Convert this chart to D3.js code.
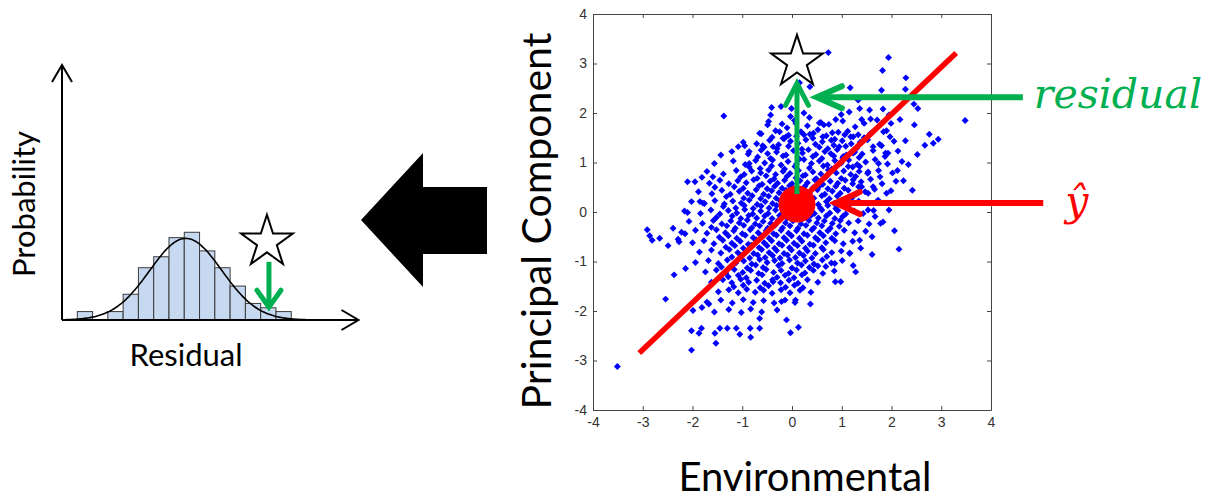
<!DOCTYPE html>
<html lang="en">
<head>
<meta charset="UTF-8">
<title>Residual from principal component regression</title>
<script src="https://d3js.org/d3.v7.min.js"></script>
<style>
  body { margin: 0; background: #fff; }
</style>
</head>
<body>
<div id="chart"></div>
<script>
const width = 1217, height = 501;

// ---- histogram (left panel) ----
const binStarts = [-3.5, -3, -2.5, -2, -1.5, -1, -0.5, 0, 0.5, 1, 1.5, 2, 2.5, 3];
const binWidth = 0.5;
const binDensity = [0.033, 0, 0.033, 0.101, 0.205, 0.248, 0.323, 0.344, 0.271, 0.205, 0.133, 0.065, 0.048, 0.033];
const fitMean = 0.05, fitSigma = 1.18, fitPeak = 0.32;
const obsResidual = 2.77;   // where the starred sample falls

// ---- scatter (right panel) ----
const axisTicks = [-4, -3, -2, -1, 0, 1, 2, 3, 4];
const fitLineX = [-3.07, 3.3];
const fitLineY = [-2.85, 3.21];
const yHat = [0.1, 0.16];
const observed = [0.1, 3.03];

const scatterPts = [
  // sparse edge points
  [0.73,3.22],[1.94,3.12],[1.82,2.86],[2.29,2.71],[2.28,2.48],[1.80,2.46],[1.17,2.51],[0.36,2.53],[0.15,2.61],
  [3.48,1.85],[-1.37,1.94],[2.45,2.18],[2.53,2.09],[2.46,1.76],[2.76,1.57],[2.94,1.47],[2.84,1.39],[2.67,1.35],
  [2.28,1.44],[2.52,1.16],[2.34,0.96],[2.42,0.44],[2.24,0.63],[2.12,0.84],[2.06,-0.38],[2.15,-0.75],[1.99,0.43],
  [1.95,0.04],[1.78,-0.23],[1.61,-0.50],[1.61,-0.86],[1.38,-0.73],[1.23,-1.08],[1.28,-1.21],[0.98,-1.41],[0.87,-1.41],
  [0.86,-1.04],[0.68,-1.10],[0.37,-1.86],[0.13,-2.33],[-0.03,-2.44],[-0.11,-2.18],[0.07,-1.78],[-0.21,-1.81],
  [-0.38,-1.41],[-0.65,-2.15],[-0.65,-2.35],[-0.83,-2.53],[-0.84,-2.35],[-1.05,-2.47],[-1.12,-2.35],[-1.30,-2.35],
  [-1.45,-2.35],[-1.53,-2.65],[-1.55,-2.45],[-1.82,-2.35],[-1.87,-2.45],[-2.02,-2.40],[-2.02,-2.79],[-1.99,-1.99],
  [-1.81,-1.93],[-1.67,-1.86],[-2.54,-1.76],[-2.37,-1.27],[-2.14,-1.14],[-3.51,-3.12],[-2.91,-0.36],[-2.86,-0.48],
  [-2.81,-0.57],[-2.66,-0.53],[-2.49,-0.68],[-2.39,-0.33],[-2.29,-0.55],[-2.27,-0.60],[-2.15,-0.44],[-2.10,-0.01],
  [-2.10,0.61],[-1.81,0.70],[-1.85,0.21],[-1.79,0.18],[-1.59,0.71],[-1.55,0.50],[-1.43,1.15],[-1.08,1.32],
  [-0.95,1.34],[-0.86,1.22],[-0.86,0.98],[-0.65,1.59],[-0.59,1.34],[-0.49,1.76],[-0.43,1.96],[-0.41,2.11],
  [-0.22,2.13],[-0.01,2.09],[-0.03,1.93],[0.24,2.00],[0.35,1.91],[0.55,1.80],[0.88,1.87],[0.99,1.97],[1.15,2.02],
  [1.36,2.09],[1.56,2.06],[1.33,2.26],[1.40,1.87],[1.58,1.88],[1.83,2.08],[1.95,1.96],[2.17,1.87],[1.90,1.64],
  [1.99,1.79],[1.63,1.32],[1.80,1.34],[1.93,1.19],[1.97,1.52],[1.87,1.12],[1.74,0.98],[1.77,0.71],[1.63,0.51],
  [1.53,0.38],[1.40,0.51],[1.53,0.81],[1.23,0.65],[1.36,0.92],[1.23,1.19],[1.13,0.92],[1.03,1.12],[0.95,1.32],
  [0.79,1.45],[1.06,1.56],[1.23,1.52],[0.81,1.60],[0.64,1.76],[0.43,1.59],[0.24,1.56],[0.08,1.79],[-0.10,1.70],
  [-0.18,1.49],[-0.38,1.32],[-0.25,1.62],[-0.12,1.52],[1.67,-0.09],[1.83,-0.20],[1.53,0.04],[1.36,-0.57],[1.16,-0.84],
  // body of the cloud
  [-0.47,1.83],[-0.2,1.78],[0.05,1.85],[0.31,1.74],[0.58,1.81],[0.74,1.77],[1.02,1.84],[1.27,1.72],[1.45,1.79],[1.71,1.86],
  [-0.62,1.58],[-0.33,1.64],[-0.07,1.55],[0.18,1.62],[0.36,1.57],[0.52,1.66],[0.69,1.54],[0.93,1.61],[1.12,1.63],[1.33,1.56],[1.58,1.59],[1.84,1.62],
  [-0.98,1.41],[-0.71,1.38],[-0.45,1.45],[-0.27,1.36],[-0.03,1.43],[0.12,1.39],[0.28,1.46],[0.47,1.37],[0.61,1.42],[0.84,1.35],[1.01,1.44],[1.19,1.38],[1.37,1.41],[1.52,1.46],[1.76,1.37],[2.05,1.43],
  [-1.21,1.22],[-0.88,1.17],[-0.62,1.25],[-0.49,1.18],[-0.31,1.21],[-0.12,1.15],[0.03,1.24],[0.21,1.19],[0.33,1.26],[0.48,1.16],[0.66,1.22],[0.78,1.18],[0.91,1.26],[1.09,1.15],[1.26,1.21],[1.41,1.17],[1.63,1.24],[1.88,1.19],[2.13,1.23],
  [-1.56,0.98],[-1.18,1.03],[-0.94,0.96],[-0.73,1.04],[-0.55,0.99],[-0.39,1.05],[-0.22,0.95],[-0.08,1.02],[0.09,0.97],[0.24,1.06],[0.39,0.98],[0.55,1.03],[0.71,0.95],[0.86,1.04],[0.99,0.99],[1.14,1.05],[1.31,0.96],[1.48,1.01],[1.67,1.06],[1.92,0.97],[2.21,1.02],
  [-1.71,0.82],[-1.38,0.77],[-1.12,0.84],[-0.96,0.76],[-0.81,0.83],[-0.63,0.79],[-0.47,0.85],[-0.33,0.76],[-0.18,0.82],[-0.04,0.78],[0.13,0.84],[0.27,0.75],[0.42,0.81],[0.58,0.77],[0.73,0.85],[0.89,0.79],[1.04,0.83],[1.18,0.76],[1.35,0.82],[1.52,0.78],[1.74,0.84],[2.02,0.79],
  [-1.95,0.61],[-1.66,0.58],[-1.45,0.64],[-1.27,0.57],[-1.09,0.63],[-0.92,0.59],[-0.77,0.65],[-0.6,0.56],[-0.44,0.62],[-0.29,0.58],[-0.15,0.64],[0.0,0.57],[0.16,0.63],[0.31,0.59],[0.46,0.65],[0.62,0.56],[0.77,0.62],[0.92,0.58],[1.07,0.64],[1.22,0.57],[1.39,0.61],[1.58,0.66],[1.81,0.57],[2.09,0.62],
  [-1.88,0.41],[-1.61,0.37],[-1.41,0.44],[-1.24,0.36],[-1.06,0.42],[-0.89,0.38],[-0.72,0.45],[-0.57,0.36],[-0.41,0.43],[-0.26,0.39],[-0.12,0.44],[0.04,0.37],[0.19,0.43],[0.35,0.38],[0.51,0.45],[0.66,0.36],[0.81,0.42],[0.97,0.38],[1.13,0.44],[1.29,0.37],[1.47,0.41],[1.66,0.46],[1.9,0.38],
  [-2.02,0.21],[-1.76,0.17],[-1.55,0.23],[-1.36,0.16],[-1.19,0.22],[-1.02,0.18],[-0.86,0.24],[-0.7,0.15],[-0.54,0.21],[-0.39,0.17],[-0.24,0.23],[-0.09,0.16],[0.08,0.22],[0.22,0.18],[0.38,0.24],[0.53,0.15],[0.69,0.21],[0.85,0.17],[1.0,0.23],[1.17,0.16],[1.34,0.22],[1.52,0.18],[1.73,0.24],
  [-2.16,0.02],[-1.84,-0.03],[-1.63,0.04],[-1.45,-0.04],[-1.28,0.03],[-1.11,-0.02],[-0.95,0.05],[-0.79,-0.04],[-0.63,0.02],[-0.48,-0.03],[-0.33,0.04],[-0.18,-0.02],[-0.03,0.03],[0.14,-0.04],[0.29,0.02],[0.45,-0.03],[0.6,0.04],[0.76,-0.02],[0.92,0.03],[1.08,-0.04],[1.25,0.02],[1.43,-0.03],[1.64,0.03],
  [-2.07,-0.19],[-1.8,-0.23],[-1.58,-0.17],[-1.41,-0.24],[-1.23,-0.18],[-1.06,-0.22],[-0.9,-0.16],[-0.74,-0.24],[-0.58,-0.19],[-0.43,-0.23],[-0.28,-0.17],[-0.13,-0.22],[0.02,-0.18],[0.18,-0.24],[0.34,-0.17],[0.5,-0.22],[0.65,-0.18],[0.81,-0.23],[0.97,-0.17],[1.14,-0.22],[1.33,-0.18],[1.55,-0.24],
  [-2.22,-0.41],[-1.94,-0.37],[-1.71,-0.43],[-1.52,-0.36],[-1.34,-0.42],[-1.17,-0.38],[-1.0,-0.44],[-0.84,-0.36],[-0.68,-0.42],[-0.52,-0.38],[-0.37,-0.44],[-0.22,-0.37],[-0.07,-0.43],[0.09,-0.38],[0.24,-0.44],[0.4,-0.36],[0.56,-0.42],[0.72,-0.38],[0.88,-0.44],[1.05,-0.37],[1.26,-0.42],[1.48,-0.39],
  [-2.0,-0.62],[-1.77,-0.58],[-1.57,-0.64],[-1.39,-0.57],[-1.21,-0.63],[-1.04,-0.59],[-0.88,-0.65],[-0.72,-0.56],[-0.56,-0.62],[-0.41,-0.58],[-0.26,-0.64],[-0.11,-0.57],[0.04,-0.63],[0.2,-0.59],[0.36,-0.65],[0.52,-0.56],[0.68,-0.62],[0.86,-0.58],[1.03,-0.64],[1.22,-0.59],
  [-1.86,-0.81],[-1.62,-0.77],[-1.43,-0.83],[-1.26,-0.76],[-1.09,-0.82],[-0.93,-0.78],[-0.77,-0.84],[-0.61,-0.76],[-0.46,-0.82],[-0.31,-0.78],[-0.16,-0.84],[-0.01,-0.77],[0.15,-0.83],[0.31,-0.79],[0.47,-0.84],[0.63,-0.76],[0.8,-0.82],[0.99,-0.79],[1.16,-0.83],
  [-1.94,-1.02],[-1.68,-0.98],[-1.48,-1.04],[-1.3,-0.97],[-1.13,-1.03],[-0.97,-0.99],[-0.81,-1.05],[-0.65,-0.96],[-0.5,-1.02],[-0.35,-0.98],[-0.2,-1.04],[-0.05,-0.97],[0.11,-1.03],[0.27,-0.99],[0.44,-1.05],[0.61,-0.97],[0.79,-1.03],[1.01,-0.98],
  [-1.74,-1.21],[-1.52,-1.17],[-1.33,-1.23],[-1.16,-1.16],[-0.99,-1.22],[-0.83,-1.18],[-0.67,-1.24],[-0.52,-1.16],[-0.37,-1.22],[-0.22,-1.18],[-0.07,-1.24],[0.09,-1.17],[0.26,-1.23],[0.43,-1.18],[0.62,-1.24],[0.85,-1.19],
  [-1.62,-1.42],[-1.39,-1.37],[-1.21,-1.43],[-1.03,-1.36],[-0.87,-1.42],[-0.71,-1.38],[-0.55,-1.44],[-0.39,-1.37],[-0.23,-1.43],[-0.06,-1.38],[0.12,-1.44],[0.31,-1.37],[0.52,-1.42],
  [-1.48,-1.61],[-1.27,-1.57],[-1.08,-1.63],[-0.91,-1.56],[-0.74,-1.62],[-0.57,-1.58],[-0.4,-1.64],[-0.22,-1.57],[-0.04,-1.63],[0.16,-1.58],[0.38,-1.62],
  [-1.71,-1.82],[-1.43,-1.78],[-1.2,-1.84],[-0.98,-1.77],[-0.78,-1.83],[-0.57,-1.79],[-0.36,-1.84],[-0.14,-1.78],[0.06,-1.83],
  [-1.56,-2.02],[-1.27,-1.97],[-1.02,-2.03],[-0.83,-1.96],[-0.61,-2.02],[-0.3,-1.98],
  // dense core
  [-0.86,0.91],[-0.64,0.88],[-0.41,0.93],[-0.15,0.87],[0.06,0.92],[0.35,0.89],[0.63,0.93],[0.8,0.87],[1.22,0.91],
  [-1.03,0.71],[-0.7,0.68],[-0.52,0.73],[-0.36,0.67],[-0.1,0.72],[0.08,0.69],[0.22,0.73],[0.49,0.67],[0.69,0.71],[0.99,0.68],[1.28,0.72],
  [-1.16,0.51],[-0.98,0.48],[-0.66,0.53],[-0.5,0.47],[-0.35,0.52],[-0.2,0.48],[-0.05,0.53],[0.11,0.47],[0.26,0.52],[0.42,0.49],[0.56,0.53],[0.72,0.47],[0.88,0.52],[1.05,0.48],[1.34,0.51],
  [-1.32,0.31],[-0.97,0.28],[-0.8,0.33],[-0.63,0.27],[-0.47,0.32],[-0.32,0.28],[-0.17,0.33],[-0.02,0.27],[0.27,0.32],[0.44,0.28],[0.6,0.33],[0.75,0.27],[0.91,0.32],[1.21,0.29],
  [-1.38,0.11],[-1.13,0.08],[-0.96,0.13],[-0.78,0.07],[-0.62,0.12],[-0.46,0.08],[-0.31,0.13],[-0.16,0.07],[0.4,0.12],[0.57,0.08],[0.72,0.13],[0.88,0.07],[1.12,0.11],
  [-1.52,-0.11],[-1.2,-0.08],[-1.03,-0.13],[-0.87,-0.07],[-0.71,-0.12],[-0.55,-0.08],[-0.4,-0.13],[-0.25,-0.07],[-0.1,-0.12],[0.06,-0.08],[0.22,-0.13],[0.38,-0.07],[0.53,-0.12],[0.69,-0.08],[0.86,-0.13],[1.02,-0.09],
  [-1.62,-0.31],[-1.31,-0.28],[-1.14,-0.33],[-0.97,-0.27],[-0.81,-0.32],[-0.65,-0.28],[-0.49,-0.33],[-0.34,-0.27],[-0.19,-0.32],[-0.04,-0.28],[0.12,-0.33],[0.28,-0.27],[0.44,-0.32],[0.6,-0.28],[0.77,-0.33],[0.95,-0.29],
  [-1.46,-0.51],[-1.28,-0.48],[-1.11,-0.53],[-0.94,-0.47],[-0.78,-0.52],[-0.62,-0.48],[-0.46,-0.53],[-0.31,-0.47],[-0.16,-0.52],[-0.01,-0.48],[0.15,-0.53],[0.31,-0.47],[0.47,-0.52],[0.63,-0.48],[0.8,-0.53],
  [-1.33,-0.71],[-1.15,-0.68],[-0.98,-0.73],[-0.82,-0.67],[-0.66,-0.72],[-0.5,-0.68],[-0.35,-0.73],[-0.2,-0.67],[-0.05,-0.72],[0.11,-0.68],[0.27,-0.73],[0.43,-0.67],[0.6,-0.72],
  [-1.21,-0.91],[-1.02,-0.88],[-0.85,-0.93],[-0.69,-0.87],[-0.54,-0.92],[-0.39,-0.88],[-0.24,-0.93],[-0.09,-0.87],[0.07,-0.92],[0.23,-0.88],[0.4,-0.93],[0.7,-0.9],
  [-0.69,1.11],[-0.43,1.08],[-0.18,1.13],[0.15,1.07],[0.42,1.12],[0.6,1.08],[0.84,1.13],[1.02,1.09],[1.35,1.1],
  [-0.56,1.31],[-0.3,1.28],[-0.07,1.33],[0.2,1.27],[0.55,1.31],[0.72,1.28],[1.08,1.33],[1.3,1.29],
  [-0.4,1.51],[-0.16,1.48],[0.09,1.53],[0.42,1.49],[0.62,1.52],[0.86,1.47],[1.18,1.52],[1.45,1.5],
  [-1.42,-1.11],[-1.2,-1.08],[-0.9,-1.13],[-0.73,-1.07],[-0.58,-1.12],[-0.27,-1.08],[0.0,-1.13],[0.19,-1.07],[0.35,-1.12],[0.52,-1.09],
  [-1.28,-1.31],[-1.08,-1.28],[-0.92,-1.33],[-0.6,-1.27],[-0.3,-1.32],[-0.14,-1.28],[0.04,-1.33],[0.2,-1.27],
  [-1.17,-1.51],[-0.98,-1.48],[-0.64,-1.53],[-0.47,-1.49],[-0.13,-1.52],[0.05,-1.48],[0.22,-1.53]
];

const GREEN = "#00B050", RED = "#FF0000", BLUE = "#0000FF";

const svg = d3.select("#chart").append("svg")
  .attr("width", width).attr("height", height)
  .style("background", "#fff");

// ---------- helpers ----------
function arrow(g, x1, y1, x2, y2, color, w, len, half) {
  const ang = Math.atan2(y2 - y1, x2 - x1);
  const ux = Math.cos(ang), uy = Math.sin(ang);
  const bx = x2 - ux * len, by = y2 - uy * len;
  g.append("line")
    .attr("x1", x1).attr("y1", y1).attr("x2", x2 - ux * 2).attr("y2", y2 - uy * 2)
    .attr("stroke", color).attr("stroke-width", w);
  g.append("path")
    .attr("d", `M${bx - uy * half},${by + ux * half}L${x2},${y2}L${bx + uy * half},${by - ux * half}`)
    .attr("fill", "none").attr("stroke", color).attr("stroke-width", w)
    .attr("stroke-linecap", "round").attr("stroke-linejoin", "miter");
}

function star(g, x, y) {
  g.append("path")
    .attr("d", d3.symbol(d3.symbolStar, 830)())
    .attr("transform", `translate(${x},${y})`)
    .attr("fill", "#fff").attr("stroke", "#000").attr("stroke-width", 2);
}

// ---------- left: histogram ----------
const hx = d3.scaleLinear().domain([-4, 5.7]).range([62, 358.5]);
const hy = d3.scaleLinear().domain([0, 1]).range([320, 65]);
const hist = svg.append("g");

hist.selectAll("rect.bin")
  .data(binStarts)
  .join("rect")
  .attr("class", "bin")
  .attr("x", d => hx(d))
  .attr("width", hx(binWidth) - hx(0))
  .attr("y", (d, i) => hy(binDensity[i]))
  .attr("height", (d, i) => hy(0) - hy(binDensity[i]))
  .attr("fill", "#C6D9F1")
  .attr("stroke", "#3a3a3a")
  .attr("stroke-width", 1)
  .style("display", (d, i) => binDensity[i] > 0 ? null : "none");

const curveX = d3.range(-4, 4.6, 0.05);
hist.append("path")
  .datum(curveX)
  .attr("d", d3.line()
    .x(d => hx(d))
    .y(d => hy(fitPeak * Math.exp(-((d - fitMean) ** 2) / (2 * fitSigma * fitSigma))))
    .curve(d3.curveBasis))
  .attr("fill", "none").attr("stroke", "#000").attr("stroke-width", 1.6);

// axes with open arrowheads
hist.append("path")
  .attr("d", `M${hx(-4)},${hy(0)}H${hx(5.7)}M${hx(5.7) - 17},${hy(0) - 10}L${hx(5.7)},${hy(0)}L${hx(5.7) - 17},${hy(0) + 10}`)
  .attr("fill", "none").attr("stroke", "#000").attr("stroke-width", 2);
hist.append("path")
  .attr("d", `M${hx(-4)},${hy(0)}V${hy(1)}M${hx(-4) - 10},${hy(1) + 17}L${hx(-4)},${hy(1)}L${hx(-4) + 10},${hy(1) + 17}`)
  .attr("fill", "none").attr("stroke", "#000").attr("stroke-width", 2);

star(hist, hx(obsResidual) - 2, hy(0.306));
arrow(hist, hx(obsResidual), hy(0.228), hx(obsResidual), hy(0.05), GREEN, 5, 17, 12);

hist.append("text")
  .attr("x", 186).attr("y", 366)
  .attr("text-anchor", "middle")
  .style("font-family", "Lato, 'Open Sans', sans-serif").style("font-size", "31px")
  .text("Residual");
hist.append("text")
  .attr("transform", "translate(35,204) rotate(-90)")
  .attr("text-anchor", "middle")
  .style("font-family", "Lato, 'Open Sans', sans-serif").style("font-size", "31px")
  .text("Probability");

// ---------- middle: big block arrow ----------
svg.append("polygon")
  .attr("points", [[361, 220], [423, 153], [423, 187], [487, 187], [487, 254], [423, 254], [423, 287]].join(" "))
  .attr("fill", "#000");

// ---------- right: scatter ----------
const sx = d3.scaleLinear().domain([-4, 4]).range([593, 991]);
const sy = d3.scaleLinear().domain([-4, 4]).range([410, 14]);
const sc = svg.append("g");

sc.append("rect")
  .attr("x", sx(-4)).attr("y", sy(4))
  .attr("width", sx(4) - sx(-4)).attr("height", sy(-4) - sy(4))
  .attr("fill", "#fff");

function styleAxis(g) {
  g.select(".domain").attr("stroke", "#444");
  g.selectAll(".tick line").attr("stroke", "#444");
  g.selectAll(".tick text")
    .attr("fill", "#333")
    .style("font-family", "'Liberation Sans', Arial, sans-serif")
    .style("font-size", "14px");
}

const tickFmt = d => String(d);
sc.append("g").attr("transform", `translate(0,${sy(-4)})`)
  .call(d3.axisBottom(sx).tickValues(axisTicks).tickSizeInner(-4).tickSizeOuter(0).tickPadding(7).tickFormat(tickFmt))
  .call(styleAxis);
sc.append("g").attr("transform", `translate(${sx(-4)},0)`)
  .call(d3.axisLeft(sy).tickValues(axisTicks).tickSizeInner(-4).tickSizeOuter(0).tickPadding(6).tickFormat(tickFmt))
  .call(styleAxis);
sc.append("g").attr("transform", `translate(0,${sy(4)})`)
  .call(d3.axisTop(sx).tickValues(axisTicks).tickSizeInner(-4).tickSizeOuter(0).tickFormat(""))
  .call(styleAxis);
sc.append("g").attr("transform", `translate(${sx(4)},0)`)
  .call(d3.axisRight(sy).tickValues(axisTicks).tickSizeInner(-4).tickSizeOuter(0).tickFormat(""))
  .call(styleAxis);

const diamond = d3.symbol(d3.symbolSquare, 24)();
sc.append("g").selectAll("path")
  .data(scatterPts)
  .join("path")
  .attr("d", diamond)
  .attr("transform", d => `translate(${sx(d[0])},${sy(d[1])}) rotate(45)`)
  .attr("fill", BLUE);

sc.append("line")
  .attr("x1", sx(fitLineX[0])).attr("y1", sy(fitLineY[0]))
  .attr("x2", sx(fitLineX[1])).attr("y2", sy(fitLineY[1]))
  .attr("stroke", RED).attr("stroke-width", 5.5);

sc.append("circle")
  .attr("cx", sx(yHat[0])).attr("cy", sy(yHat[1])).attr("r", 18.5)
  .attr("fill", RED);

// residual arrow (prediction -> observation)
arrow(sc, sx(yHat[0]), sy(yHat[1]) - 10, sx(observed[0]), sy(2.6), GREEN, 5, 22, 11.5);
star(sc, sx(observed[0]), sy(observed[1]));

// callouts
arrow(sc, sx(4.64), sy(2.32), sx(0.5), sy(2.32), GREEN, 6, 25, 11);
arrow(sc, sx(5.05), sy(0.18), sx(0.88), sy(0.18), RED, 6, 24, 11);

sc.append("text")
  .attr("x", sx(4.64) + 11).attr("y", 108)
  .attr("fill", GREEN)
  .style("font-family", "'DejaVu Serif', serif").style("font-style", "italic").style("font-size", "41px")
  .text("residual");
sc.append("text")
  .attr("x", sx(5.05) + 22).attr("y", 215)
  .attr("fill", RED)
  .style("font-family", "'DejaVu Serif', serif").style("font-style", "italic").style("font-size", "41px")
  .text("ŷ");

// axis titles
sc.append("text")
  .attr("x", 805).attr("y", 491)
  .attr("text-anchor", "middle")
  .style("font-family", "Lato, 'Open Sans', sans-serif").style("font-size", "40px")
  .text("Environmental");
sc.append("text")
  .attr("transform", "translate(551,221) rotate(-90)")
  .attr("text-anchor", "middle")
  .style("font-family", "Lato, 'Open Sans', sans-serif").style("font-size", "41px")
  .text("Principal Component");
</script>
</body>
</html>
